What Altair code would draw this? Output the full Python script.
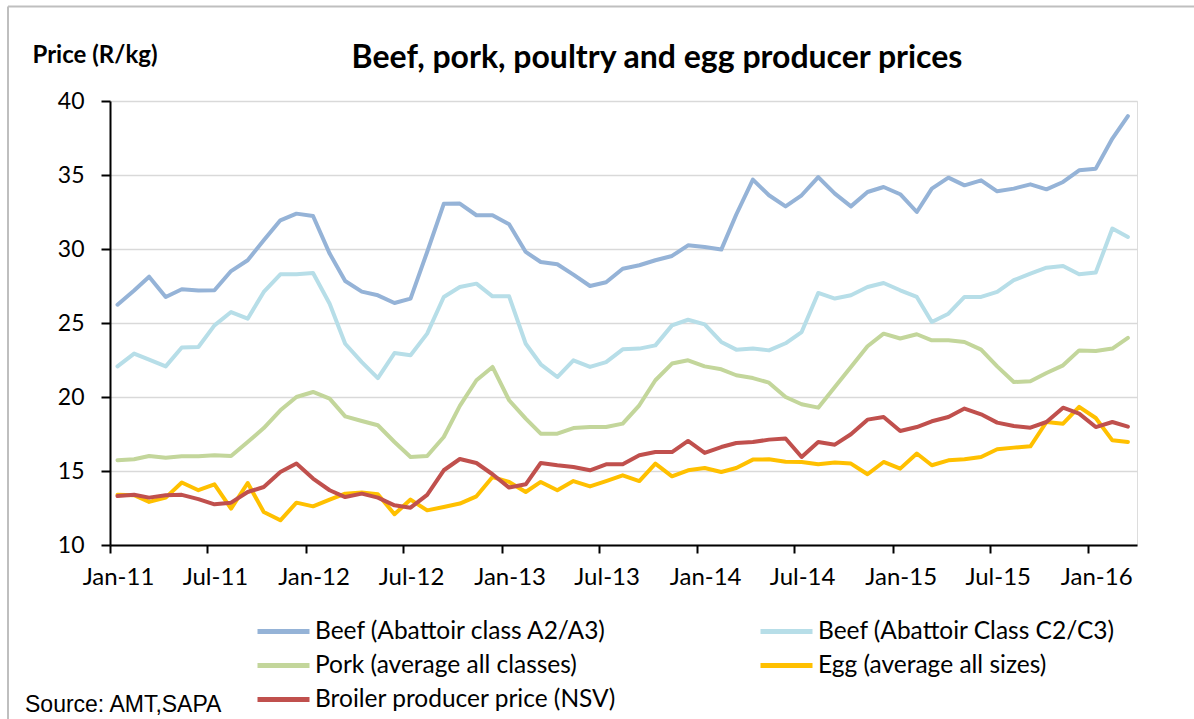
import altair as alt
import pandas as pd

# ---- data (monthly, Jan-2011 .. Mar-2016) ----
series_names = [
    "Beef (Abattoir class A2/A3)",
    "Beef (Abattoir Class C2/C3)",
    "Pork (average all classes)",
    "Egg (average all sizes)",
    "Broiler producer price (NSV)",
]
series_colors = ["#95B3D7", "#B7DEE8", "#C3D69B", "#FFC000", "#C0504D"]

beef_a2a3 = [26.24, 27.2, 28.13, 26.76, 27.28, 27.19, 27.21, 28.51, 29.24, 30.59,
             31.94, 32.39, 32.23, 29.69, 27.84, 27.12, 26.87, 26.35, 26.65, 29.8,
             33.05, 33.07, 32.28, 32.28, 31.67, 29.8, 29.12, 28.97, 28.27, 27.5,
             27.75, 28.67, 28.9, 29.24, 29.53, 30.25, 30.14, 29.96, 32.33, 34.69,
             33.63, 32.88, 33.63, 34.86, 33.74, 32.88, 33.85, 34.19, 33.70, 32.5,
             34.08, 34.82, 34.3, 34.64, 33.9, 34.08, 34.37, 34.03, 34.53, 35.32,
             35.43, 37.46, 38.98]
beef_c2c3 = [22.07, 22.93, 22.52, 22.07, 23.34, 23.38, 24.84, 25.74, 25.29, 27.1,
             28.29, 28.29, 28.38, 26.3, 23.6, 22.36, 21.28, 22.97, 22.82, 24.28,
             26.76, 27.43, 27.66, 26.8, 26.8, 23.6, 22.21, 21.35, 22.48, 22.03,
             22.36, 23.22, 23.27, 23.49, 24.84, 25.22, 24.91, 23.72, 23.2, 23.27,
             23.15, 23.63, 24.39, 27.03, 26.65, 26.87, 27.43, 27.7, 27.21, 26.76,
             25.07, 25.63, 26.76, 26.76, 27.1, 27.89, 28.34, 28.74, 28.85, 28.29,
             28.41, 31.38, 30.81]
pork = [15.73, 15.79, 16.01, 15.9, 15.99, 15.99, 16.06, 16.01, 16.96, 17.9,
        19.1, 20.0, 20.34, 19.89, 18.69, 18.38, 18.09, 16.96, 15.95, 16.01,
        17.3, 19.4, 21.13, 22.03, 19.78, 18.54, 17.52, 17.52, 17.9, 17.97,
        17.97, 18.2, 19.44, 21.13, 22.26, 22.48, 22.07, 21.87, 21.47, 21.28,
        20.97, 20.0, 19.51, 19.28, 20.68, 22.03, 23.43, 24.28, 23.95, 24.24,
        23.83, 23.83, 23.72, 23.2, 22.07, 21.01, 21.06, 21.62, 22.14, 23.15,
        23.11, 23.27, 23.99]
egg = [13.39, 13.36, 12.91, 13.2, 14.22, 13.7, 14.1, 12.46, 14.19, 12.23,
       11.67, 12.86, 12.61, 13.07, 13.47, 13.54, 13.43, 12.08, 13.07, 12.34,
       12.57, 12.8, 13.29, 14.59, 14.26, 13.58, 14.26, 13.7, 14.32, 13.96,
       14.32, 14.71, 14.32, 15.5, 14.64, 15.05, 15.2, 14.93, 15.2, 15.77,
       15.79, 15.63, 15.61, 15.45, 15.57, 15.5, 14.78, 15.61, 15.16, 16.18,
       15.39, 15.72, 15.79, 15.95, 16.47, 16.58, 16.67, 18.31, 18.2, 19.33,
       18.58, 17.07, 16.96]
broiler = [13.31, 13.39, 13.2, 13.36, 13.39, 13.1, 12.75, 12.86, 13.58, 13.92,
           14.93, 15.5, 14.49, 13.7, 13.24, 13.47, 13.2, 12.68, 12.52, 13.39,
           15.05, 15.81, 15.54, 14.78, 13.88, 14.1, 15.54, 15.39, 15.27, 15.05,
           15.45, 15.45, 16.06, 16.28, 16.28, 17.03, 16.22, 16.62, 16.89, 16.96,
           17.12, 17.2, 15.95, 16.96, 16.78, 17.48, 18.47, 18.65, 17.7, 17.97,
           18.36, 18.65, 19.22, 18.83, 18.27, 18.04, 17.93, 18.31, 19.28, 18.88,
           17.97, 18.31, 18.0]

months = [d.strftime("%Y-%m-15T00:00:00") for d in pd.date_range("2011-01-01", periods=63, freq="MS")]
tick_months = [(2011, 1), (2011, 7), (2012, 1), (2012, 7), (2013, 1), (2013, 7),
               (2014, 1), (2014, 7), (2015, 1), (2015, 7), (2016, 1)]
title_text = ["Beef, pork, poultry and egg producer prices"]
source_text = ["Source: AMT,SAPA"]

rows = []
for name, vals in zip(series_names, [beef_a2a3, beef_c2c3, pork, egg, broiler]):
    assert len(vals) == len(months)
    for d, v in zip(months, vals):
        rows.append({"date": d, "series": name, "price": v})
df = pd.DataFrame(rows)

FONT = "Lato"

x_enc = alt.X(
    "date:T",
    scale=alt.Scale(domain=[alt.DateTime(year=2011, month=1, date=1),
                            alt.DateTime(year=2016, month=4, date=1)]),
    axis=alt.Axis(
        title=None,
        values=[alt.DateTime(year=y, month=m, date=1) for y, m in tick_months],
        format="%b-%y",
        grid=False,
        domainColor="black", domainWidth=2,
        tickColor="black", tickWidth=2, tickSize=8,
        labelFont=FONT, labelFontSize=24, labelColor="black",
        labelPadding=12, labelOffset=8, labelFlush=False, labelOverlap=False,
    ),
)
y_enc = alt.Y(
    "price:Q",
    scale=alt.Scale(domain=[10, 40], nice=False, zero=False),
    axis=alt.Axis(
        title="Price (R/kg)",
        values=[10, 15, 20, 25, 30, 35, 40],
        grid=True, gridColor="#D9D9D9", gridWidth=1.5,
        domainColor="black", domainWidth=2,
        tickColor="black", tickWidth=2, tickSize=9,
        labelFont=FONT, labelFontSize=23, labelColor="black", labelPadding=17,
        titleFont=FONT, titleFontSize=24, titleFontWeight="bold", titleColor="black",
        titleAngle=0, titleAlign="left", titleBaseline="alphabetic",
        titleX=-78, titleY=-39,
    ),
)

lines = alt.Chart(df).mark_line(strokeWidth=4, strokeJoin="round", strokeCap="round").encode(
    x=x_enc,
    y=y_enc,
    color=alt.Color(
        "series:N",
        scale=alt.Scale(domain=series_names, range=series_colors),
        sort=series_names,
        legend=alt.Legend(
            title=None, orient="none", legendX=151, legendY=508,
            direction="horizontal", columns=2, columnPadding=133, rowPadding=0,
            symbolType="M-1.3,0H1.3", symbolSize=1600, symbolStrokeWidth=5,
            labelFont=FONT, labelFontSize=24.5, labelColor="black", labelLimit=500,
            labelOffset=9,
        ),
    ),
)

frame = pd.DataFrame({"b": [1]})
border_top = alt.Chart(frame).mark_rule(stroke="#BFBFBF", strokeWidth=2).encode(
    x=alt.value(-102), x2=alt.value(1084), y=alt.value(-94.5)
)
border_left = alt.Chart(frame).mark_rule(stroke="#BFBFBF", strokeWidth=2).encode(
    x=alt.value(-102), y=alt.value(-94.5), y2=alt.value(620)
)

title = alt.Chart(pd.DataFrame({"t": title_text})).mark_text(
    font=FONT, fontSize=32, fontWeight="bold", align="center", baseline="alphabetic", color="black"
).encode(text="t:N", x=alt.value(547), y=alt.value(-33))

source = alt.Chart(pd.DataFrame({"t": source_text})).mark_text(
    font="Liberation Sans", fontSize=23, align="left", baseline="alphabetic", color="black"
).encode(text="t:N", x=alt.value(-85), y=alt.value(611))

chart = alt.layer(border_top, border_left, lines, title, source).properties(
    width=1027, height=444,
    autosize=alt.AutoSizeParams(type="none"),
    padding={"left": 110, "top": 101, "right": 57, "bottom": 174},
).configure_view(stroke=None).configure(background="white")

chart.save("out.html", embed_options={"renderer": "svg", "actions": False})
